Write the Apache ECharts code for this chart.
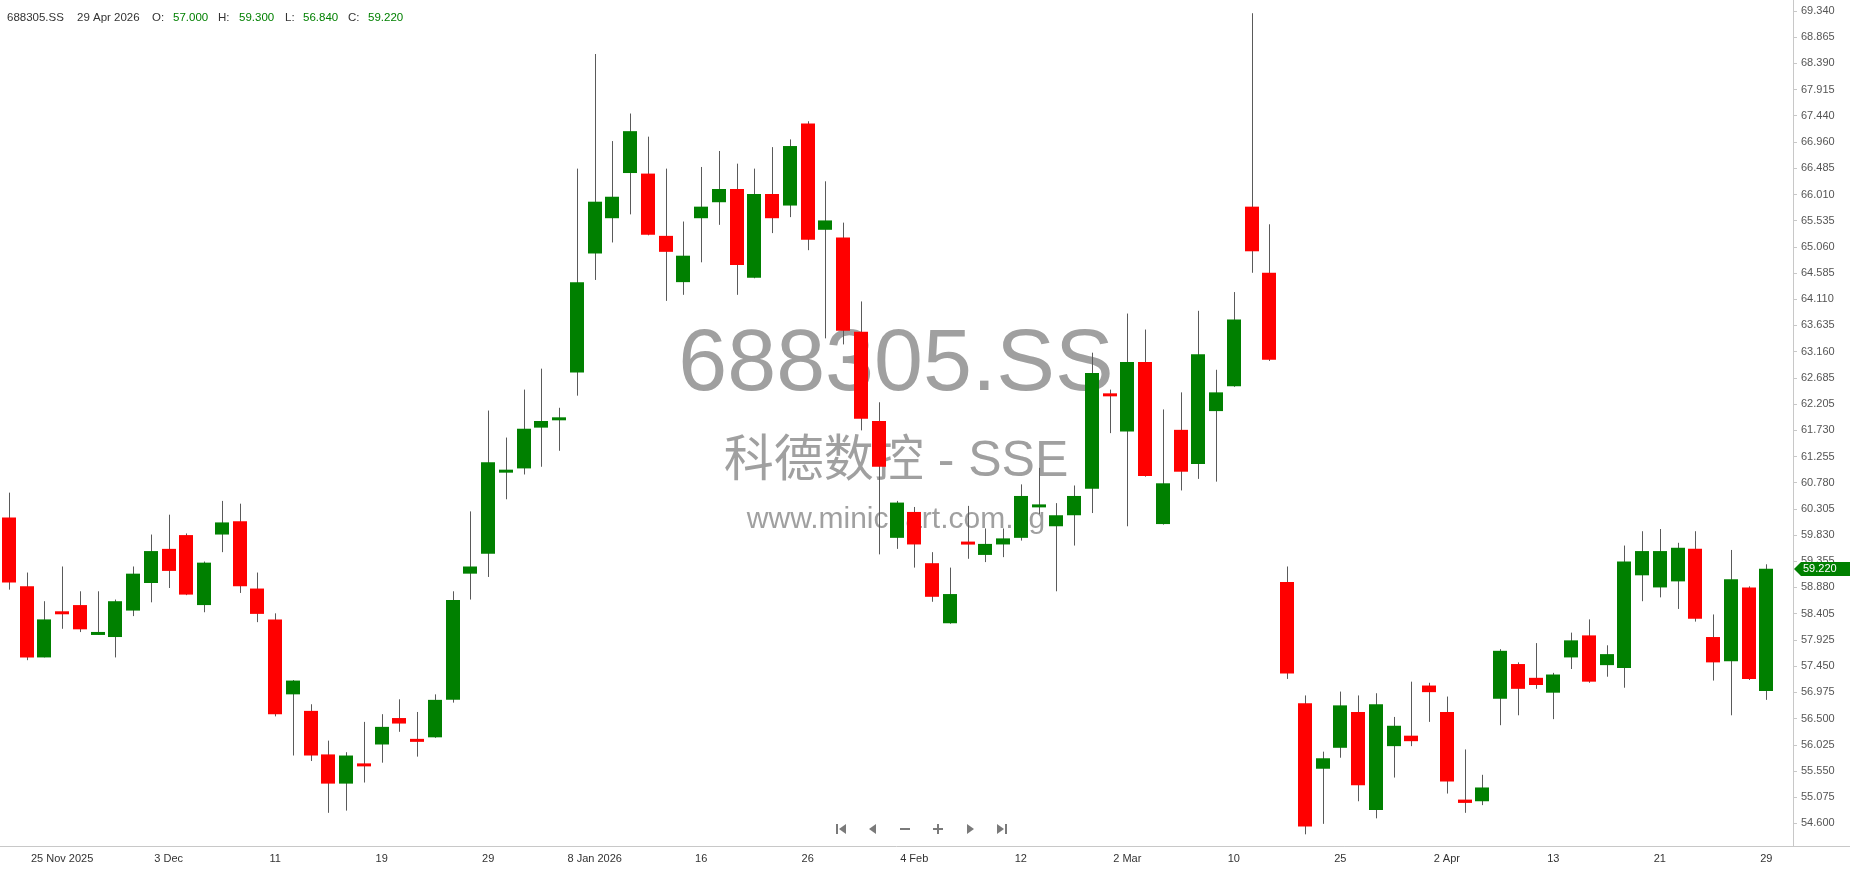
<!DOCTYPE html>
<html>
<head>
<meta charset="utf-8">
<title>688305.SS</title>
<script src="https://cdn.jsdelivr.net/npm/echarts@6/dist/echarts.min.js"></script>
<style>
html, body { margin: 0; padding: 0; background: #fff; }
#main { width: 1850px; height: 874px; }
</style>
</head>
<body>
<div id="main"></div>
<script>
var symbol = '688305.SS';
var stockName = '科德数控 - SSE';
var site = 'www.minichart.com.sg';

// trading days (daily candles)
var dates = [
  '2025-11-20','2025-11-21','2025-11-24','2025-11-25','2025-11-26','2025-11-27','2025-11-28',
  '2025-12-01','2025-12-02','2025-12-03','2025-12-04','2025-12-05','2025-12-08','2025-12-09','2025-12-10',
  '2025-12-11','2025-12-12','2025-12-15','2025-12-16','2025-12-17','2025-12-18','2025-12-19','2025-12-22',
  '2025-12-23','2025-12-24','2025-12-25','2025-12-26','2025-12-29','2025-12-30','2025-12-31',
  '2026-01-05','2026-01-06','2026-01-07','2026-01-08','2026-01-09','2026-01-12','2026-01-13','2026-01-14',
  '2026-01-15','2026-01-16','2026-01-19','2026-01-20','2026-01-21','2026-01-22','2026-01-23','2026-01-26',
  '2026-01-27','2026-01-28','2026-01-29',
  '2026-02-02','2026-02-03','2026-02-04','2026-02-05','2026-02-06','2026-02-09','2026-02-10','2026-02-11',
  '2026-02-12','2026-02-13','2026-02-24','2026-02-25','2026-02-26','2026-02-27',
  '2026-03-02','2026-03-03','2026-03-04','2026-03-05','2026-03-06','2026-03-09','2026-03-10','2026-03-11',
  '2026-03-12','2026-03-20','2026-03-23','2026-03-24','2026-03-25','2026-03-26','2026-03-27','2026-03-30',
  '2026-03-31',
  '2026-04-01','2026-04-02','2026-04-03','2026-04-07','2026-04-08','2026-04-09','2026-04-10','2026-04-13',
  '2026-04-14','2026-04-15','2026-04-16','2026-04-17','2026-04-20','2026-04-21','2026-04-22','2026-04-23',
  '2026-04-24','2026-04-27','2026-04-28','2026-04-29'
];

var opens = [
  60.15, 58.90, 57.61, 58.44, 58.56, 58.03, 57.98, 58.46, 58.96, 59.58,
  59.83, 58.56, 59.84, 60.08, 58.86, 58.30, 56.94, 56.64, 55.85, 55.32,
  55.67, 56.03, 56.51, 56.12, 56.16, 56.84, 59.13, 59.49, 60.98, 61.04,
  61.78, 61.92, 62.78, 64.94, 65.58, 66.40, 66.39, 65.26, 64.42, 65.58,
  65.87, 66.11, 64.50, 66.02, 65.81, 67.30, 65.37, 65.23, 63.52, 61.90,
  59.78, 60.25, 59.32, 58.23, 59.71, 59.47, 59.66, 59.78, 60.35, 59.99,
  60.19, 60.67, 62.40, 61.71, 62.97, 60.03, 61.74, 61.12, 62.08, 62.53,
  65.79, 64.59, 58.98, 56.78, 55.59, 55.97, 56.62, 54.84, 56.00, 56.19,
  57.10, 56.62, 55.03, 55.00, 56.86, 57.49, 57.24, 56.97, 57.61, 58.01,
  57.47, 57.42, 59.10, 58.88, 58.99, 59.58, 57.98, 57.54, 58.88, 57.00
];
var closes = [
  58.97, 57.61, 58.30, 58.40, 58.12, 58.06, 58.63, 59.13, 59.54, 59.18,
  58.75, 59.33, 60.06, 58.90, 58.40, 56.58, 57.19, 55.83, 55.32, 55.83,
  55.65, 56.35, 56.41, 56.09, 56.84, 58.65, 59.26, 61.15, 61.00, 61.76,
  61.90, 61.96, 64.42, 65.88, 65.97, 67.16, 65.28, 64.97, 64.90, 65.79,
  66.11, 64.73, 66.02, 65.58, 66.89, 65.19, 65.54, 63.54, 61.94, 61.07,
  60.42, 59.66, 58.71, 58.76, 59.66, 59.67, 59.77, 60.54, 60.37, 60.19,
  60.54, 62.77, 62.35, 62.97, 60.90, 60.77, 60.98, 63.11, 62.42, 63.74,
  64.98, 63.01, 57.32, 54.54, 55.78, 56.74, 55.29, 56.76, 56.37, 56.09,
  56.98, 55.36, 54.97, 55.25, 57.73, 57.04, 57.11, 57.30, 57.92, 57.17,
  57.67, 59.35, 59.54, 59.54, 59.60, 58.31, 57.52, 59.03, 57.22, 59.22
];
var lows = [
  58.84, 57.56, 57.61, 58.13, 58.07, 58.02, 57.61, 58.36, 58.61, 58.87,
  58.74, 58.43, 59.52, 58.78, 58.25, 56.54, 55.83, 55.73, 54.79, 54.83,
  55.34, 55.70, 56.26, 55.81, 56.15, 56.79, 58.66, 59.07, 60.48, 60.93,
  61.07, 61.36, 62.36, 64.46, 65.14, 65.65, 65.27, 64.08, 64.19, 64.78,
  65.46, 64.19, 64.49, 65.31, 65.60, 65.00, 63.40, 63.29, 61.73, 59.48,
  59.58, 59.24, 58.62, 58.22, 59.40, 59.34, 59.43, 59.73, 60.21, 58.81,
  59.64, 60.23, 61.68, 59.99, 60.89, 60.02, 60.64, 60.85, 60.80, 62.52,
  64.59, 62.99, 57.22, 54.40, 54.59, 55.79, 55.00, 54.69, 55.43, 56.00,
  56.44, 55.14, 54.79, 54.93, 56.38, 56.56, 57.04, 56.49, 57.40, 57.15,
  57.26, 57.06, 58.63, 58.70, 58.49, 58.26, 57.19, 56.56, 57.20, 56.84
];
var highs = [
  60.60, 59.15, 58.63, 59.26, 58.81, 58.81, 58.66, 59.26, 59.84, 60.20,
  59.86, 59.35, 60.45, 60.40, 59.15, 58.41, 57.20, 56.76, 56.10, 55.89,
  56.44, 56.58, 56.85, 56.62, 56.94, 58.81, 60.26, 62.09, 61.60, 62.47,
  62.85, 62.14, 66.48, 68.56, 66.98, 67.48, 67.06, 66.48, 65.52, 66.51,
  66.80, 66.57, 66.48, 66.87, 67.01, 67.34, 66.25, 65.50, 64.07, 62.24,
  60.45, 60.34, 59.52, 59.24, 60.36, 59.95, 59.95, 60.75, 61.05, 60.41,
  60.73, 63.14, 62.47, 63.85, 63.56, 62.11, 62.42, 63.90, 62.83, 64.24,
  69.30, 65.47, 59.26, 56.92, 55.90, 56.99, 56.92, 56.96, 56.53, 57.17,
  57.15, 56.90, 55.94, 55.48, 57.76, 57.52, 57.87, 57.33, 58.06, 58.30,
  57.83, 59.64, 59.90, 59.94, 59.69, 59.90, 58.39, 59.56, 58.90, 59.30
];

// price axis labels
var yTicks = [
  54.600, 55.075, 55.550, 56.025, 56.500, 56.975, 57.450, 57.925, 58.405, 58.880,
  59.355, 59.830, 60.305, 60.780, 61.255, 61.730, 62.205, 62.685, 63.160, 63.635,
  64.110, 64.585, 65.060, 65.535, 66.010, 66.485, 66.960, 67.440, 67.915, 68.390,
  68.865, 69.340
];

var months = ['Jan','Feb','Mar','Apr','May','Jun','Jul','Aug','Sep','Oct','Nov','Dec'];
var UP = '#008000', DOWN = '#ff0000', WICK = '#5a5a5a', AXIS = '#c8c8c8';
var FONT = '"Liberation Sans", Arial, sans-serif';

function showLabel(index) {
  return index < dates.length && index % 6 === 3;
}
function fmtDate(value, index) {
  var p = value.split('-');
  var day = parseInt(p[2], 10), mon = months[parseInt(p[1], 10) - 1];
  var prev = dates[index - 6];
  if (!prev) return day + ' ' + mon + ' ' + p[0];
  var q = prev.split('-');
  if (q[0] !== p[0]) return day + ' ' + mon + ' ' + p[0];
  if (q[1] !== p[1]) return day + ' ' + mon;
  return '' + day;
}

var ohlc = dates.map(function (d, i) {
  return [i, opens[i], closes[i], lows[i], highs[i]];
});

function renderItem(params, api) {
  var i = api.value(0);
  var o = api.value(1), c = api.value(2), l = api.value(3), h = api.value(4);
  var pO = api.coord([i, o]), pC = api.coord([i, c]);
  var pL = api.coord([i, l]), pH = api.coord([i, h]);
  var w = Math.round(api.size([1, 0])[0] * 0.77);
  var x0 = Math.round(pO[0] - w / 2);
  var xc = x0 + Math.floor(w / 2) + 0.5;
  var top = Math.min(pO[1], pC[1]), bot = Math.max(pO[1], pC[1]);
  if (bot - top < 3) { var m = (top + bot) / 2; top = m - 1.5; bot = m + 1.5; }
  return {
    type: 'group',
    children: [
      { type: 'line', shape: { x1: xc, y1: pH[1], x2: xc, y2: pL[1] },
        style: { stroke: WICK, lineWidth: 1 } },
      { type: 'rect', shape: { x: x0, y: top, width: w, height: bot - top },
        style: { fill: c >= o ? UP : DOWN } }
    ]
  };
}

var last = dates.length - 1;
var lp = dates[last].split('-');
var lastDate = parseInt(lp[2], 10) + ' ' + months[parseInt(lp[1], 10) - 1] + ' ' + lp[0];

function txt(x, y, s, color, font) {
  return { type: 'text', x: x, y: y, z: 10,
    style: { text: s, fill: color, font: font || ('11.5px ' + FONT), verticalAlign: 'middle' } };
}

var NAV = '#7a7a7a', ny = 829;
var navIcons = [
  { type: 'rect', shape: { x: 836, y: ny - 5, width: 2, height: 10 }, style: { fill: NAV } },
  { type: 'polygon', shape: { points: [[839, ny], [846, ny - 5], [846, ny + 5]] }, style: { fill: NAV } },
  { type: 'polygon', shape: { points: [[869, ny], [876, ny - 5], [876, ny + 5]] }, style: { fill: NAV } },
  { type: 'rect', shape: { x: 900, y: ny - 1, width: 10, height: 2 }, style: { fill: NAV } },
  { type: 'rect', shape: { x: 933, y: ny - 1, width: 10, height: 2 }, style: { fill: NAV } },
  { type: 'rect', shape: { x: 937, y: ny - 5, width: 2, height: 10 }, style: { fill: NAV } },
  { type: 'polygon', shape: { points: [[974, ny], [967, ny - 5], [967, ny + 5]] }, style: { fill: NAV } },
  { type: 'polygon', shape: { points: [[1004, ny], [997, ny - 5], [997, ny + 5]] }, style: { fill: NAV } },
  { type: 'rect', shape: { x: 1005, y: ny - 5, width: 2, height: 10 }, style: { fill: NAV } }
];

var chart = echarts.init(document.getElementById('main'));
chart.setOption({
  animation: false,
  backgroundColor: '#fff',
  grid: { left: 0, right: 57, top: 0, bottom: 28 },
  xAxis: {
    type: 'category',
    data: dates,
    max: dates.length,
    boundaryGap: true,
    axisLine: { lineStyle: { color: AXIS } },
    axisTick: { interval: showLabel, alignWithLabel: true, length: 5, lineStyle: { color: AXIS } },
    axisLabel: { interval: showLabel, formatter: fmtDate, color: '#333', fontSize: 11, fontFamily: FONT, margin: 7 },
    splitLine: { show: false }
  },
  yAxis: {
    type: 'value',
    position: 'right',
    min: 54.188,
    max: 69.54,
    axisLine: { show: true, lineStyle: { color: AXIS } },
    axisTick: { show: true, customValues: yTicks, length: 4, lineStyle: { color: AXIS } },
    axisLabel: {
      customValues: yTicks,
      formatter: function (v) { return v.toFixed(3); },
      color: '#555', fontSize: 11, fontFamily: FONT, margin: 8
    },
    splitLine: { show: false }
  },
  series: [{
    type: 'custom',
    renderItem: renderItem,
    data: ohlc,
    encode: { x: 0, y: [1, 2, 3, 4] }
  }]
});

// price tag on the axis for the last close
var yc = Math.round(chart.convertToPixel({ yAxisIndex: 0 }, closes[last]));
chart.setOption({
  graphic: [
    // watermark
    { type: 'text', x: 896, y: 366, z: -1, silent: true,
      style: { text: symbol, fill: '#a0a0a0', font: '88px ' + FONT, align: 'center', verticalAlign: 'middle' } },
    { type: 'text', x: 896, y: 462, z: -1, silent: true,
      style: { text: stockName, fill: '#a0a0a0', font: '50px "Liberation Sans", "Noto Sans CJK SC", sans-serif', align: 'center', verticalAlign: 'middle' } },
    { type: 'text', x: 896, y: 520, z: -1, silent: true,
      style: { text: site, fill: '#a0a0a0', font: '30px ' + FONT, align: 'center', verticalAlign: 'middle' } },
    // header
    txt(7, 18, symbol, '#333'),
    txt(77, 18, lastDate, '#333'),
    txt(152, 18, 'O:', '#333'),
    txt(173, 18, opens[last].toFixed(3), UP),
    txt(218, 18, 'H:', '#333'),
    txt(239, 18, highs[last].toFixed(3), UP),
    txt(285, 18, 'L:', '#333'),
    txt(303, 18, lows[last].toFixed(3), UP),
    txt(348, 18, 'C:', '#333'),
    txt(368, 18, closes[last].toFixed(3), UP),
    // axis line continues under the price scale
    { type: 'rect', right: 0, bottom: 27, shape: { width: 57, height: 1 }, style: { fill: AXIS } },
    { type: 'polygon', z: 10,
      shape: { points: [[1794, yc], [1801, yc - 7], [1850, yc - 7], [1850, yc + 7], [1801, yc + 7]] },
      style: { fill: UP } },
    { type: 'text', x: 1803, y: yc, z: 11,
      style: { text: closes[last].toFixed(3), fill: '#fff', font: '11px ' + FONT, verticalAlign: 'middle' } }
  ].concat(navIcons.map(function (e) { e.z = 10; return e; }))
});
</script>
</body>
</html>
